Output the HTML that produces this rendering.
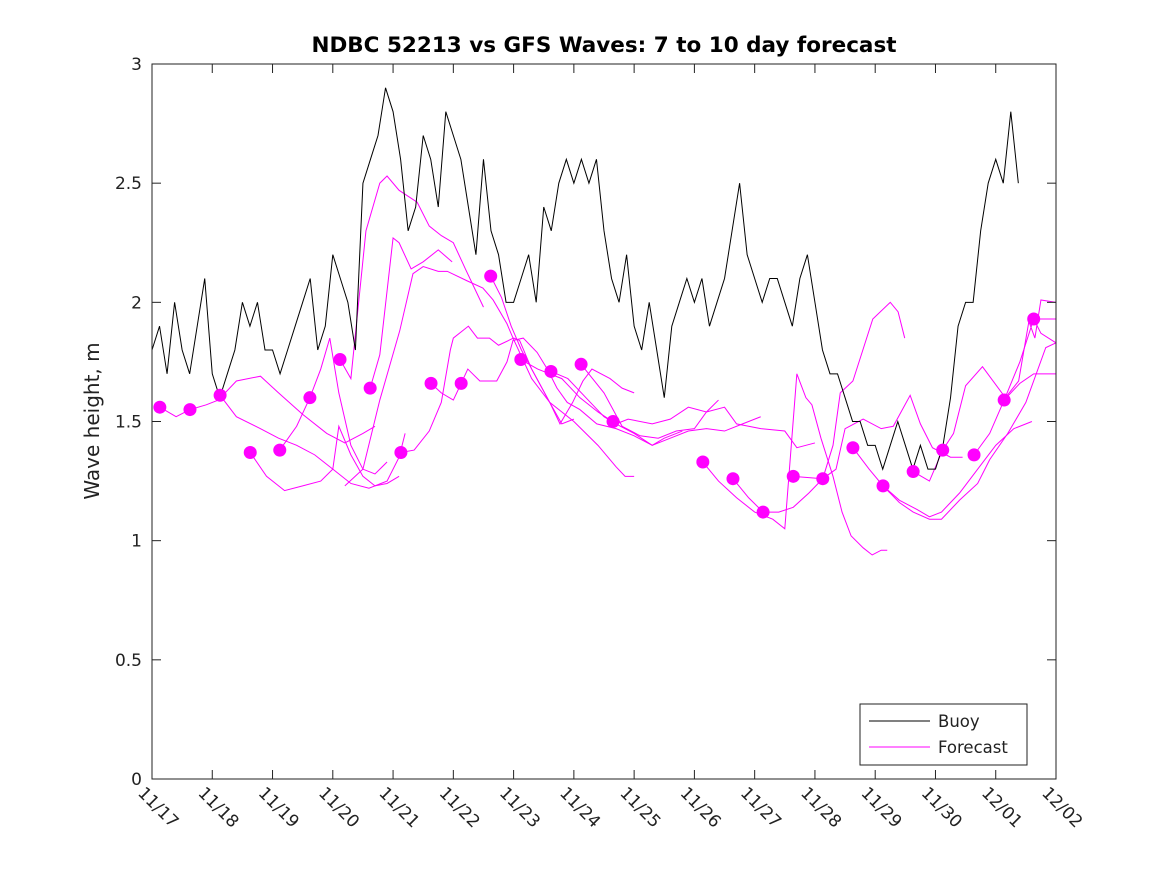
<!DOCTYPE html>
<html><head><meta charset="utf-8"><style>
html,body{margin:0;padding:0;background:#fff;}
svg{display:block;font-family:"DejaVu Sans","Liberation Sans",sans-serif;}
</style></head><body>
<svg id="chart" width="1167" height="875" viewBox="0 0 1167 875" xmlns="http://www.w3.org/2000/svg">
<rect x="0" y="0" width="1167" height="875" fill="#fff"/>
<text x="604" y="52" text-anchor="middle" font-size="21.5" font-weight="bold" fill="#000">NDBC 52213 vs GFS Waves: 7 to 10 day forecast</text>
<text transform="translate(99,421) rotate(-90)" text-anchor="middle" font-size="20" fill="#222">Wave height, m</text>
<g id="grid"></g>
<g id="series"></g>
<rect x="152" y="64" width="904" height="715" fill="none" stroke="#222" stroke-width="1"/>
<g id="axes"></g>
<g>
<rect x="860" y="704" width="167" height="61" fill="#fff" stroke="#222" stroke-width="1"/>
<line x1="869" y1="721" x2="930" y2="721" stroke="#000" stroke-width="1"/>
<text x="938" y="727" font-size="16.5" fill="#222">Buoy</text>
<line x1="869" y1="747" x2="930" y2="747" stroke="#ff00ff" stroke-width="1"/>
<text x="938" y="753" font-size="16.5" fill="#222">Forecast</text>
</g>
</svg>
<script>
const xTickLabels=["11/17","11/18","11/19","11/20","11/21","11/22","11/23","11/24","11/25","11/26","11/27","11/28","11/29","11/30","12/01","12/02"];
const yTicks=[0,0.5,1,1.5,2,2.5,3];
const yTickLabels=["0","0.5","1","1.5","2","2.5","3"];
const buoyStart=0, buoyStep=0.125;
const buoyValues=[
1.8,1.9,1.7,2.0,1.8,1.7,1.9,2.1,
1.7,1.6,1.7,1.8,2.0,1.9,2.0,1.8,
1.8,1.7,1.8,1.9,2.0,2.1,1.8,1.9,
2.2,2.1,2.0,1.8,2.5,2.6,2.7,2.9,
2.8,2.6,2.3,2.4,2.7,2.6,2.4,2.8,
2.7,2.6,2.4,2.2,2.6,2.3,2.2,2.0,
2.0,2.1,2.2,2.0,2.4,2.3,2.5,2.6,
2.5,2.6,2.5,2.6,2.3,2.1,2.0,2.2,
1.9,1.8,2.0,1.8,1.6,1.9,2.0,2.1,
2.0,2.1,1.9,2.0,2.1,2.3,2.5,2.2,
2.1,2.0,2.1,2.1,2.0,1.9,2.1,2.2,
2.0,1.8,1.7,1.7,1.6,1.5,1.5,1.4,
1.4,1.3,1.4,1.5,1.4,1.3,1.4,1.3,
1.3,1.4,1.6,1.9,2.0,2.0,2.3,2.5,
2.6,2.5,2.8,2.5];
const dotDays=[0.13,0.63,1.13,1.63,2.12,2.62,3.12,3.62,4.13,4.63,5.13,5.62,6.12,6.62,7.12,7.65,9.14,9.64,10.14,10.64,11.13,11.63,12.13,12.63,13.12,13.64,14.14,14.63];
const dotValues=[1.56,1.55,1.61,1.37,1.38,1.60,1.76,1.64,1.37,1.66,1.66,2.11,1.76,1.71,1.74,1.50,1.33,1.26,1.12,1.27,1.26,1.39,1.23,1.29,1.38,1.36,1.59,1.93];
const fc1=[[0.13,1.56],[0.4,1.52],[0.63,1.55],[0.9,1.57],[1.1,1.59],[1.4,1.67],[1.8,1.69],[2.1,1.62],[2.5,1.53],[2.9,1.45],[3.2,1.41],[3.5,1.45],[3.7,1.48]];
const fc2=[[1.13,1.61],[1.4,1.52],[1.8,1.47],[2.1,1.43],[2.4,1.40],[2.7,1.36],[3.0,1.30],[3.3,1.24],[3.6,1.22],[3.9,1.25],[4.1,1.35],[4.2,1.45]];
const fc3=[[1.63,1.37],[1.9,1.27],[2.2,1.21],[2.5,1.23],[2.8,1.25],[3.0,1.30],[3.1,1.48],[3.3,1.36],[3.5,1.27],[3.7,1.23],[3.9,1.24],[4.1,1.27]];
const fc4=[[2.12,1.38],[2.4,1.48],[2.62,1.60],[2.8,1.72],[2.95,1.85],[3.1,1.62],[3.3,1.40],[3.5,1.30],[3.7,1.28],[3.9,1.33]];
const fc5=[[3.12,1.76],[3.3,1.68],[3.55,2.30],[3.78,2.50],[3.9,2.53],[4.1,2.47],[4.4,2.42],[4.6,2.32],[4.8,2.28],[5.0,2.25],[5.2,2.14],[5.5,1.98]];
const fc6=[[3.62,1.64],[3.78,1.78],[4.0,2.27],[4.1,2.25],[4.3,2.14],[4.5,2.17],[4.75,2.22],[4.98,2.17]];
const fc7=[[4.13,1.37],[4.35,1.38],[4.6,1.46],[4.8,1.58],[4.95,1.80],[5.0,1.85],[5.25,1.90],[5.4,1.85],[5.6,1.85],[5.75,1.82],[6.0,1.85],[6.1,1.84],[6.3,1.72],[6.6,1.58],[6.8,1.49],[7.0,1.51]];
const fc8=[[3.2,1.23],[3.5,1.30],[3.78,1.59],[4.11,1.88],[4.33,2.12],[4.5,2.15],[4.75,2.13],[4.9,2.13],[5.23,2.09],[5.49,2.06],[5.66,2.01],[5.89,1.91],[5.99,1.85],[6.3,1.68],[6.6,1.58],[7.0,1.50],[7.4,1.40],[7.7,1.31],[7.85,1.27],[8.0,1.27]];
const fc9=[[4.63,1.66],[4.8,1.62],[5.0,1.59],[5.13,1.66],[5.24,1.72],[5.44,1.67],[5.72,1.67],[5.89,1.75],[5.99,1.84],[6.16,1.85],[6.39,1.79],[6.56,1.72],[6.72,1.64],[6.89,1.58],[7.1,1.55],[7.38,1.49],[7.7,1.47],[8.0,1.44],[8.3,1.40],[8.5,1.43],[8.8,1.46]];
const fc10=[[5.62,2.11],[5.8,2.02],[5.96,1.90],[6.13,1.80],[6.3,1.72],[6.6,1.58],[6.77,1.49],[6.98,1.58],[7.15,1.67],[7.3,1.72],[7.6,1.68],[7.8,1.64],[8.0,1.62]];
const fc11=[[6.12,1.76],[6.4,1.72],[6.8,1.68],[7.1,1.60],[7.4,1.54],[7.7,1.49],[8.0,1.45],[8.3,1.40],[8.6,1.43],[8.9,1.46],[9.2,1.47],[9.5,1.46],[9.8,1.49],[10.1,1.52]];
const fc12=[[6.62,1.71],[6.9,1.68],[7.2,1.60],[7.5,1.52],[7.7,1.49],[7.9,1.51],[8.3,1.49],[8.6,1.51],[8.9,1.56],[9.2,1.54],[9.5,1.56],[9.7,1.49],[10.1,1.47],[10.5,1.46],[10.7,1.39],[11.0,1.41]];
const fc13=[[7.12,1.74],[7.5,1.62],[7.8,1.48],[8.1,1.44],[8.4,1.43],[8.7,1.46],[9.0,1.47],[9.2,1.54],[9.4,1.59]];
const fc14=[[9.14,1.33],[9.4,1.25],[9.7,1.18],[10.0,1.12],[10.3,1.09],[10.5,1.05],[10.7,1.70],[10.85,1.60],[10.95,1.57],[11.1,1.43],[11.3,1.27],[11.45,1.12],[11.6,1.02],[11.8,0.97],[11.95,0.94],[12.1,0.96],[12.2,0.96]];
const fc15=[[9.64,1.26],[9.9,1.18],[10.14,1.12],[10.4,1.12],[10.64,1.14],[10.9,1.20],[11.13,1.26],[11.3,1.40],[11.42,1.62],[11.63,1.67],[11.96,1.93],[12.25,2.00],[12.38,1.96],[12.49,1.85]];
const fc16=[[10.64,1.27],[11.13,1.26],[11.35,1.30],[11.5,1.47],[11.8,1.51],[12.1,1.47],[12.3,1.48],[12.58,1.61],[12.75,1.49],[12.95,1.39],[13.25,1.35],[13.45,1.35]];
const fc17=[[11.63,1.39],[11.9,1.30],[12.13,1.23],[12.4,1.17],[12.7,1.13],[12.9,1.10],[13.1,1.12],[13.4,1.20],[13.7,1.30],[14.0,1.40],[14.3,1.47],[14.6,1.50]];
const fc18=[[12.13,1.23],[12.4,1.16],[12.63,1.12],[12.9,1.09],[13.1,1.09],[13.4,1.17],[13.7,1.24],[13.9,1.34],[14.2,1.45],[14.5,1.58],[14.83,1.81],[15.0,1.83]];
const fc19=[[12.63,1.29],[12.9,1.25],[13.12,1.38],[13.3,1.45],[13.5,1.65],[13.78,1.73],[14.16,1.60],[14.38,1.67],[14.55,1.92],[14.65,1.85],[14.75,2.01],[15.0,2.00],[15.3,2.02],[15.5,2.14]];
const fc20=[[13.64,1.36],[13.9,1.45],[14.14,1.59],[14.4,1.66],[14.63,1.70],[15.0,1.70],[15.5,1.67]];
const fc21=[[14.14,1.59],[14.4,1.75],[14.63,1.93],[15.0,1.93],[15.5,1.93]];
const fc22=[[14.63,1.93],[14.75,1.87],[15.0,1.83],[15.5,1.81]];
const forecasts=[fc1,fc2,fc3,fc4,fc5,fc6,fc7,fc8,fc9,fc10,fc11,fc12,fc13,fc14,fc15,fc16,fc17,fc18,fc19,fc20,fc21,fc22];

const NS="http://www.w3.org/2000/svg";
const X0=152,X1=1056,Y0=779,Y1=64,XMAX=15,YMAX=3;
function xs(d){return X0+(X1-X0)*d/XMAX;}
function ys(v){return Y0-(Y0-Y1)*v/YMAX;}
function mk(tag,attrs,parent){const e=document.createElementNS(NS,tag);for(const k in attrs)e.setAttribute(k,attrs[k]);parent.appendChild(e);return e;}
const axes=document.getElementById('axes');
const series=document.getElementById('series');
const svgRoot=document.getElementById('chart');
const defs=mk('defs',{},svgRoot);
const cp=mk('clipPath',{id:'clip'},defs);
mk('rect',{x:X0,y:Y1,width:X1-X0,height:Y0-Y1},cp);
series.setAttribute('clip-path','url(#clip)');

xTickLabels.forEach((lab,i)=>{
  const x=xs(i);
  const t1=mk('line',{x1:x,y1:Y0,x2:x,y2:Y0-9,stroke:'#222'},axes);
  
  
  const t2=mk('line',{x1:x,y1:Y1,x2:x,y2:Y1+9,stroke:'#222'},axes);
  
  
  const tx=mk('text',{transform:`translate(${x-15},${Y0+15}) rotate(45)`,'font-size':17,fill:'#222'},axes);
  tx.textContent=lab;
  
  
});
yTicks.forEach((v,i)=>{
  const y=ys(v);
  const t1=mk('line',{x1:X0,y1:y,x2:X0+9,y2:y,stroke:'#222'},axes);
  
  
  const t2=mk('line',{x1:X1,y1:y,x2:X1-9,y2:y,stroke:'#222'},axes);
  
  
  const tx=mk('text',{x:X0-10,y:y+6,'text-anchor':'end','font-size':17,fill:'#222'},axes);
  tx.textContent=yTickLabels[i];
  
  
});

forecasts.forEach(f=>{
  const p=mk('polyline',{points:f.map(q=>xs(q[0])+','+ys(q[1])).join(' '),fill:'none',stroke:'#ff00ff','stroke-width':1},series);
  
  
});
const bp=mk('polyline',{points:buoyValues.map((v,i)=>xs(buoyStart+i*buoyStep)+','+ys(v)).join(' '),fill:'none',stroke:'#000','stroke-width':1},series);


dotDays.forEach((d,i)=>{
  const c=mk('circle',{cx:xs(d),cy:ys(dotValues[i]),r:6.5,fill:'#ff00ff'},series);
  
  
});
</script>
</body></html>
